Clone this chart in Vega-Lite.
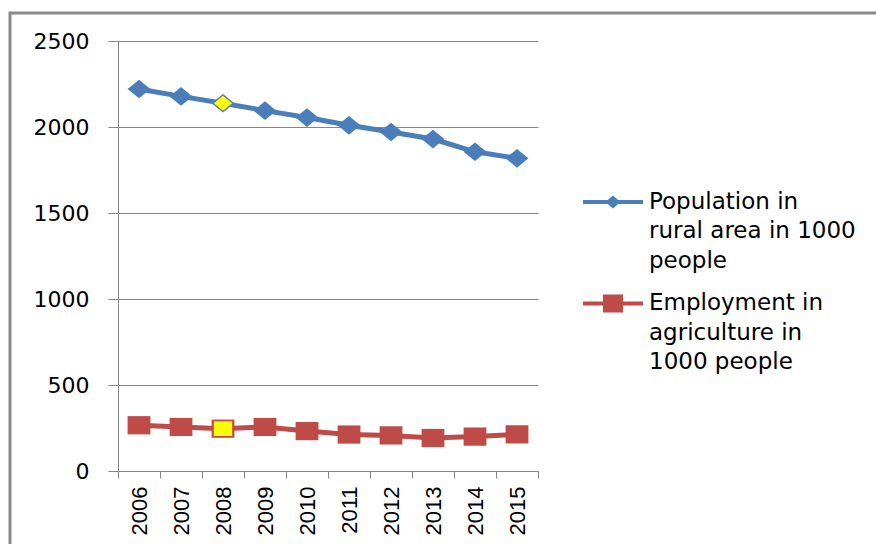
{
  "$schema": "https://vega.github.io/schema/vega-lite/v6.json",
  "usermeta": {"embedOptions": {"actions": false}},
  "width": 868,
  "height": 533,
  "autosize": {"type": "none"},
  "padding": {"left": 10, "top": 13, "right": 0, "bottom": 0},
  "background": "white",
  "config": {
    "view": {"stroke": "#8a8a8a", "strokeWidth": 3},
    "font": "DejaVu Sans",
    "style": {"guide-label": {"lineHeight": 29.5}}
  },
  "data": {
    "values": [
      {"year": 2006, "series": "Population in rural area in 1000 people", "value": 2221},
      {"year": 2007, "series": "Population in rural area in 1000 people", "value": 2178},
      {"year": 2008, "series": "Population in rural area in 1000 people", "value": 2138},
      {"year": 2009, "series": "Population in rural area in 1000 people", "value": 2095},
      {"year": 2010, "series": "Population in rural area in 1000 people", "value": 2055},
      {"year": 2011, "series": "Population in rural area in 1000 people", "value": 2010},
      {"year": 2012, "series": "Population in rural area in 1000 people", "value": 1971},
      {"year": 2013, "series": "Population in rural area in 1000 people", "value": 1930},
      {"year": 2014, "series": "Population in rural area in 1000 people", "value": 1856},
      {"year": 2015, "series": "Population in rural area in 1000 people", "value": 1818},
      {"year": 2006, "series": "Employment in agriculture in 1000 people", "value": 266},
      {"year": 2007, "series": "Employment in agriculture in 1000 people", "value": 256},
      {"year": 2008, "series": "Employment in agriculture in 1000 people", "value": 246},
      {"year": 2009, "series": "Employment in agriculture in 1000 people", "value": 256},
      {"year": 2010, "series": "Employment in agriculture in 1000 people", "value": 232},
      {"year": 2011, "series": "Employment in agriculture in 1000 people", "value": 212},
      {"year": 2012, "series": "Employment in agriculture in 1000 people", "value": 207},
      {"year": 2013, "series": "Employment in agriculture in 1000 people", "value": 192},
      {"year": 2014, "series": "Employment in agriculture in 1000 people", "value": 200},
      {"year": 2015, "series": "Employment in agriculture in 1000 people", "value": 213}
    ]
  },
  "encoding": {
    "x": {
      "field": "year",
      "type": "ordinal",
      "bandPosition": 0.5,
      "scale": {"type": "band", "range": [108, 528], "paddingInner": 0, "paddingOuter": 0},
      "axis": {
        "title": null,
        "orient": "bottom",
        "offset": -75,
        "tickBand": "extent",
        "labelAngle": -90,
        "labelFont": "Liberation Sans",
        "labelFontSize": 22,
        "labelColor": "#000000",
        "labelPadding": 8,
        "tickSize": 7,
        "tickColor": "#868686",
        "domainColor": "#868686",
        "grid": false
      }
    },
    "y": {
      "field": "value",
      "type": "quantitative",
      "scale": {"domain": [0, 2500], "range": [458, 28], "nice": false},
      "axis": {
        "title": null,
        "offset": -108,
        "values": [0, 500, 1000, 1500, 2000, 2500],
        "format": "d",
        "grid": true,
        "gridColor": "#868686",
        "domainColor": "#868686",
        "tickColor": "#868686",
        "tickSize": 10,
        "labelPadding": 19,
        "labelFont": "DejaVu Sans",
        "labelFontSize": 22,
        "labelColor": "#000000"
      }
    }
  },
  "layer": [
    {
      "mark": {"type": "line", "strokeWidth": 5},
      "encoding": {
        "stroke": {
          "field": "series",
          "type": "nominal",
          "scale": {"range": ["#BE4B48", "#4A7EBB"]},
          "legend": null
        }
      }
    },
    {
      "mark": {"type": "point", "filled": true, "opacity": 1, "size": 520, "strokeWidth": 0},
      "encoding": {
        "color": {
          "field": "series",
          "type": "nominal",
          "scale": {
            "domain": ["Population in rural area in 1000 people", "Employment in agriculture in 1000 people"],
            "range": ["#4A7EBB", "#BE4B48"]
          },
          "legend": {
            "title": null,
            "orient": "none",
            "legendX": 573,
            "legendY": 166,
            "symbolType": {"expr": "datum.value == 'Population in rural area in 1000 people' ? 'M-11.5,9.4H48.5V13.6H-11.5Z M11,11.5L18.5,5L26,11.5L18.5,18Z' : 'M-11.5,9.4H48.5V13.6H-11.5Z M8.5,2.5H28.5V20.5H8.5Z'"},
            "symbolSize": 4,
            "symbolStrokeWidth": 0,
            "symbolOpacity": 1,
            "labelExpr": "datum.value == 'Population in rural area in 1000 people' ? ['Population in', 'rural area in 1000', 'people'] : ['Employment in', 'agriculture in', '1000 people']",
            "labelFont": "DejaVu Sans",
            "labelFontSize": 23,
            "labelColor": "#000000",
            "labelLimit": 400,
            "labelOffset": 43,
            "labelBaseline": "top",
            "rowPadding": 7.5
          }
        },
        "shape": {
          "field": "series",
          "type": "nominal",
          "scale": {"range": ["M-1,-0.8H1V0.8H-1Z", "M-1,0L0,-0.82L1,0L0,0.82Z"]},
          "legend": null
        }
      }
    },
    {
      "transform": [{"filter": "datum.year == 2008"}],
      "mark": {"type": "point", "filled": true, "opacity": 1, "size": 380, "fill": "#FFFF00", "strokeWidth": 1},
      "encoding": {
        "shape": {"field": "series", "type": "nominal", "legend": null},
        "stroke": {"field": "series", "type": "nominal", "legend": null}
      }
    }
  ]
}
